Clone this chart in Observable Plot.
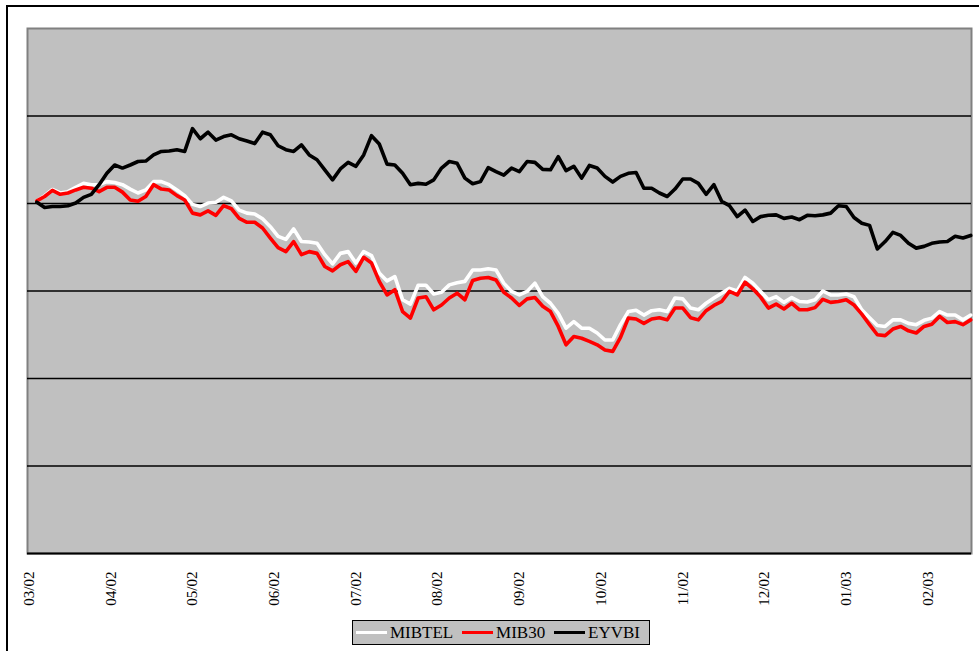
<!DOCTYPE html>
<html>
<head>
<meta charset="utf-8">
<script src="https://cdn.jsdelivr.net/npm/d3@7"></script>
<script src="https://cdn.jsdelivr.net/npm/@observablehq/plot@0.6"></script>
<style>
  html, body { margin: 0; padding: 0; background: #fff; width: 979px; height: 651px; overflow: hidden; }
  #outer { position: absolute; left: 6px; top: 5px; width: 1100px; height: 800px; border: 2px solid #000; }
  #chart { position: absolute; left: 0; top: 0; }
  #legend { position: absolute; left: 352px; top: 620px; width: 298px; height: 25px; box-sizing: border-box;
            border: 1.5px solid #000; background: #C0C0C0; display: flex; align-items: center; padding-left: 3px;
            font-family: "Liberation Serif", "Times New Roman", serif; font-size: 17px; color: #000; white-space: nowrap; }
  #legend .sw { display: inline-block; width: 31px; height: 3.5px; margin-right: 3px; }
  #legend .lbl { margin-right: 9px; line-height: 1; }
</style>
</head>
<body>
<div id="outer"></div>
<div id="chart"></div>
<div id="legend"></div>
<script>
// Series names and colours (legend order)
const seriesNames = ["MIBTEL", "MIB30", "EYVBI"];
const seriesColors = ["#FFFFFF", "#FF0000", "#000000"];

// X-axis month labels and the trading-day index each label sits on
const monthLabels = ["03/02","04/02","05/02","06/02","07/02","08/02","09/02","10/02","11/02","12/02","01/03","02/03"];
const labelDay = [0, 21, 42, 63, 84, 105, 126, 147, 168, 189, 210, 231];

// Trading-day index of each sample (every second trading day)
const sampleDay = d3.range(2, 243, 2);

// Index values (base 100)
const mibtel = [
  100.6, 101.8, 103.2, 102.4, 102.7, 103.7, 104.6, 104.3, 104.3, 105.0,
  104.8, 104.3, 103.3, 102.4, 103.1, 105.0, 105.0, 104.3, 103.1, 101.8,
  99.8, 99.3, 100.1, 100.3, 101.4, 100.6, 98.5, 97.8, 97.6, 96.5,
  94.7, 92.5, 91.8, 94.2, 91.3, 91.2, 90.9, 88.3, 86.2, 88.6,
  89.0, 86.4, 89.0, 88.1, 84.1, 82.3, 83.3, 78.0, 77.0, 81.3,
  81.3, 79.3, 79.7, 81.4, 81.9, 82.2, 84.8, 84.8, 85.1, 84.8,
  81.8, 79.9, 79.1, 79.9, 81.8, 78.7, 77.2, 74.9, 71.5, 73.0,
  71.5, 71.5, 70.4, 68.8, 68.8, 72.3, 75.3, 75.6, 74.5, 75.5,
  75.7, 75.3, 78.4, 78.2, 76.1, 75.7, 77.2, 78.4, 79.5, 80.6,
  80.0, 83.1, 81.8, 79.9, 78.0, 78.7, 77.4, 78.5, 77.6, 77.5,
  78.0, 80.0, 79.1, 79.1, 79.3, 78.7, 75.7, 73.9, 72.1, 71.9,
  73.4, 73.4, 72.6, 72.3, 73.3, 73.8, 75.3, 74.5, 74.5, 73.4,
  74.5
];
const mib30 = [
  100.6, 101.6, 103.0, 102.1, 102.4, 103.1, 103.7, 103.5, 102.7, 103.7,
  103.7, 102.6, 100.8, 100.5, 101.6, 104.3, 103.3, 103.1, 101.8, 100.8,
  97.8, 97.4, 98.3, 97.3, 99.5, 98.8, 96.6, 95.7, 95.7, 94.4,
  92.1, 89.9, 89.0, 91.3, 88.3, 89.0, 88.6, 85.6, 84.6, 86.0,
  86.7, 84.5, 87.7, 86.4, 82.2, 79.1, 80.3, 75.3, 73.8, 78.4,
  78.7, 75.7, 76.8, 78.4, 79.5, 78.0, 82.4, 82.9, 83.1, 82.5,
  79.7, 78.4, 76.7, 78.2, 78.5, 76.5, 75.3, 71.9, 67.7, 69.6,
  69.2, 68.5, 67.7, 66.5, 66.2, 69.4, 73.8, 73.6, 72.6, 73.6,
  73.9, 73.4, 76.1, 76.1, 73.9, 73.4, 75.5, 76.7, 77.6, 79.9,
  79.1, 82.0, 80.5, 78.6, 76.1, 77.0, 75.9, 77.2, 75.7, 75.7,
  76.2, 78.1, 77.4, 77.6, 78.0, 76.8, 74.7, 72.3, 70.0, 69.8,
  71.3, 71.9, 70.9, 70.4, 71.9, 72.4, 74.2, 72.8, 73.0, 72.3,
  73.4
];
const eyvbi = [
  100.3, 99.1, 99.3, 99.3, 99.5, 100.1, 101.4, 102.1, 104.3, 106.9,
  108.8, 108.1, 108.8, 109.6, 109.7, 111.1, 111.9, 112.0, 112.3, 111.9,
  117.1, 114.8, 116.3, 114.5, 115.3, 115.7, 114.8, 114.3, 113.7, 116.3,
  115.7, 113.2, 112.3, 111.9, 113.4, 111.1, 110.0, 107.7, 105.4, 107.9,
  109.4, 108.5, 111.1, 115.5, 113.6, 109.0, 108.8, 106.9, 104.3, 104.6,
  104.4, 105.4, 108.1, 109.6, 109.2, 105.8, 104.5, 105.0, 108.2, 107.3,
  106.5, 108.1, 107.3, 109.6, 109.4, 107.8, 107.7, 110.7, 107.5, 108.5,
  105.8, 108.7, 108.1, 106.2, 104.9, 106.2, 106.9, 107.1, 103.5, 103.5,
  102.4, 101.6, 103.3, 105.6, 105.6, 104.6, 102.1, 104.3, 100.5, 99.5,
  97.0, 98.5, 95.9, 97.0, 97.3, 97.4, 96.6, 96.9, 96.3, 97.3,
  97.2, 97.4, 97.8, 99.5, 99.3, 96.8, 95.5, 95.0, 89.6, 91.3,
  93.4, 92.7, 90.9, 89.8, 90.2, 90.9, 91.2, 91.3, 92.5, 92.1,
  92.7
];

// Value axis gridlines (no labels shown in the original)
const yDomain = [20, 140];
const gridValues = [40, 60, 80, 100, 120];

const seriesValues = [mibtel, mib30, eyvbi];
const rows = [];
seriesNames.forEach((name, s) => {
  seriesValues[s].forEach((v, i) => rows.push({series: name, day: sampleDay[i], value: v}));
});

const serif = '"Liberation Serif", "Times New Roman", serif';

const chart = Plot.plot({
  width: 979,
  height: 612,
  marginLeft: 27,
  marginRight: 8,
  marginTop: 28,
  marginBottom: 59,
  style: {background: "transparent", overflow: "visible"},
  x: {type: "linear", domain: [-0.4, 242.2], axis: null},
  y: {domain: yDomain, axis: null},
  color: {type: "ordinal", domain: seriesNames, range: seriesColors},
  marks: [
    Plot.frame({fill: "#C0C0C0", stroke: "#808080", strokeWidth: 2}),
    Plot.ruleY(gridValues, {stroke: "#000", strokeWidth: 1.5}),
    Plot.ruleY([yDomain[0]], {stroke: "#000", strokeWidth: 2}),
    Plot.lineY(rows, {x: "day", y: "value", z: "series", stroke: "series", strokeWidth: 3.6, strokeLinejoin: "round", strokeLinecap: "round"}),
    Plot.text(monthLabels, {
      x: (d, i) => labelDay[i],
      text: d => d,
      frameAnchor: "bottom",
      dy: 18,
      rotate: -90,
      textAnchor: "end",
      lineAnchor: "middle",
      fontSize: 15,
      fontFamily: serif,
      fill: "#000"
    })
  ]
});
document.getElementById("chart").appendChild(chart);

// Legend
const legend = document.getElementById("legend");
seriesNames.forEach((name, i) => {
  const sw = document.createElement("span");
  sw.className = "sw";
  sw.style.background = seriesColors[i];
  const lb = document.createElement("span");
  lb.className = "lbl";
  lb.textContent = name;
  legend.appendChild(sw);
  legend.appendChild(lb);
});
</script>
</body>
</html>
